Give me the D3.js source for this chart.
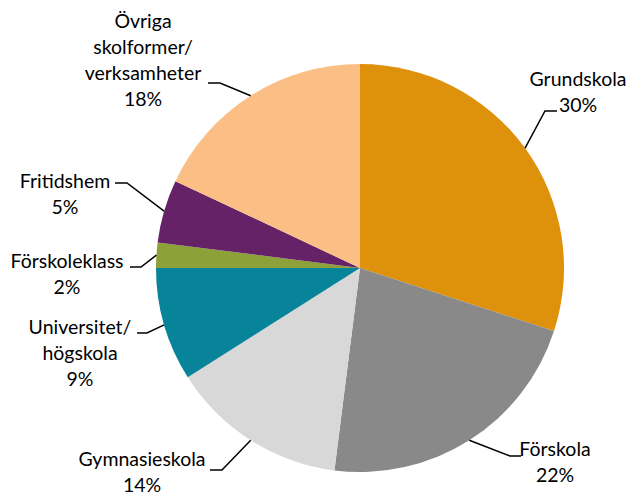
<!DOCTYPE html>
<html>
<head>
<meta charset="utf-8">
<script src="https://cdn.jsdelivr.net/npm/d3@7"></script>
<style>
  body { margin: 0; background: #fff; }
  text { font-family: Lato, "Open Sans", sans-serif; font-size: 19.5px; fill: #000; }
</style>
</head>
<body>
<svg id="chart" width="631" height="495"></svg>
<script>
// data
var categories = ["Grundskola", "Förskola", "Gymnasieskola", "Universitet/högskola",
                  "Förskoleklass", "Fritidshem", "Övriga skolformer/verksamheter"];
var labelLines = [["Grundskola"], ["Förskola"], ["Gymnasieskola"], ["Universitet/", "högskola"],
                  ["Förskoleklass"], ["Fritidshem"], ["Övriga", "skolformer/", "verksamheter"]];
var shares = [30, 22, 14, 9, 2, 5, 18];
var colors = ["#de910b", "#898989", "#d8d8d8", "#07849a", "#8da13a", "#652266", "#fbbf86"];

// label placement, relative to pie centre: elbow, end of horizontal tick, text centre x, first line y
var layout = [
  { elbow: [185, -157], tick: [197, -157], tx: 218, ty: -189 },
  { elbow: [150, 188],  tick: [161, 188],  tx: 195, ty: 181 },
  { elbow: [-138, 202], tick: [-150, 202], tx: -218, ty: 191 },
  { elbow: [-213, 65],  tick: [-223, 65],  tx: -280, ty: 59 },
  { elbow: [-219, -1],  tick: [-230, -1],  tx: -293, ty: -7 },
  { elbow: [-233, -85], tick: [-245, -85], tx: -295, ty: -87 },
  { elbow: [-140, -185],tick: [-152, -185],tx: -217, ty: -247 }
];

var width = 631, height = 495;
var cx = 360, cy = 268, radius = 204, lineH = 26;

var svg = d3.select("#chart");
var g = svg.append("g").attr("transform", "translate(" + cx + "," + cy + ")");

var pie = d3.pie().sort(null).value(function(d) { return d; });
var arc = d3.arc().innerRadius(0).outerRadius(radius);
var edge = d3.arc().innerRadius(radius).outerRadius(radius);

var arcs = pie(shares);

g.selectAll("path.slice")
  .data(arcs)
  .enter().append("path")
  .attr("class", "slice")
  .attr("d", arc)
  .attr("fill", function(d, i) { return colors[i]; });

// leader lines
g.selectAll("polyline")
  .data(arcs)
  .enter().append("polyline")
  .attr("points", function(d, i) {
    var p = edge.centroid(d);
    var L = layout[i];
    return [p, L.elbow, L.tick].map(function(q) { return q.join(","); }).join(" ");
  })
  .attr("fill", "none")
  .attr("stroke", "#000")
  .attr("stroke-width", 1.5);

// labels
var lab = g.selectAll("text.label")
  .data(arcs)
  .enter().append("text")
  .attr("class", "label")
  .attr("text-anchor", "middle")
  .attr("aria-label", function(d, i) { return categories[i]; });

lab.each(function(d, i) {
  var t = d3.select(this);
  var L = layout[i];
  var lines = labelLines[i].concat([shares[i] + "%"]);
  lines.forEach(function(s, k) {
    t.append("tspan")
      .attr("x", L.tx)
      .attr("y", L.ty + k * lineH)
      .attr("dy", "0.35em")
      .text(s);
  });
});
</script>
</body>
</html>
